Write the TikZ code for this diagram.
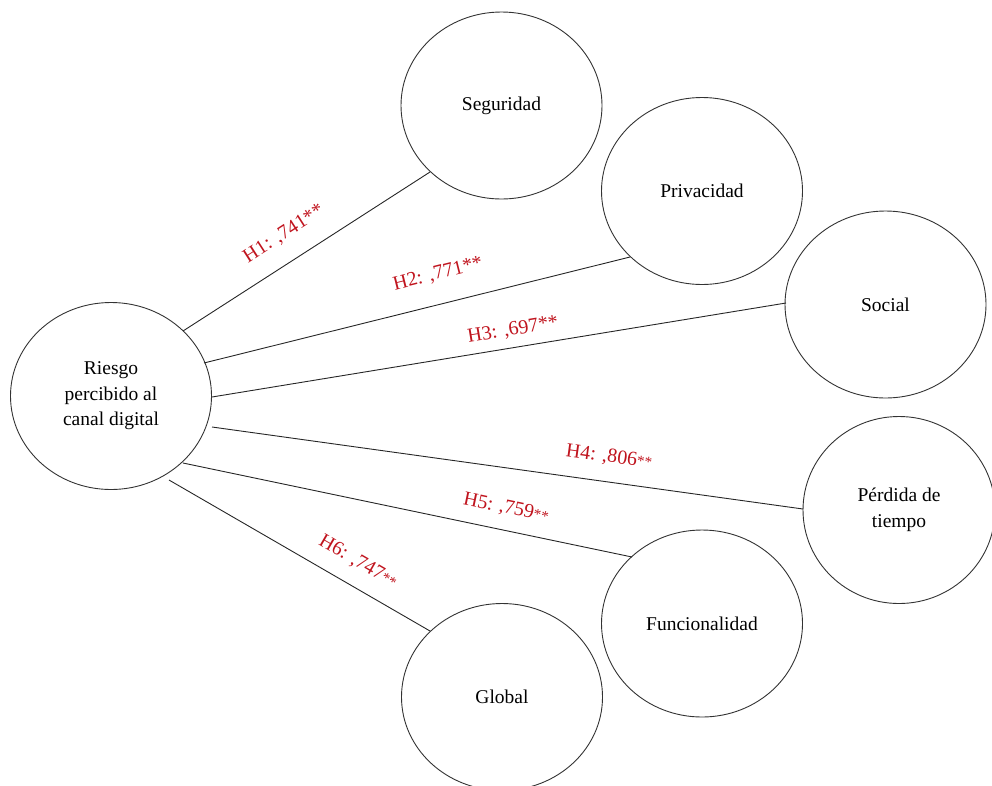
\documentclass[tikz,border=0pt]{standalone}
\usepackage{fontspec}
\setmainfont{Liberation Serif}
\usetikzlibrary{shapes.geometric}
\definecolor{lblred}{RGB}{192,20,30}
\begin{document}
\begin{tikzpicture}[x=1pt,y=-1pt,
  circ/.style={draw=black!80,line width=0.9pt,ellipse,minimum width=201pt,minimum height=187pt,inner sep=0pt,align=center,font=\fontsize{19.5}{25.5}\selectfont},
  conn/.style={draw=black!85,line width=0.9pt},
  lbl/.style={text=lblred,inner sep=0pt,font=\fontsize{20}{24}\selectfont}]
\useasboundingbox (0,0) rectangle (992,785);
\node[circ] (R) at (111,396) {Riesgo\\percibido al\\canal digital};
\node[circ] (S) at (501.5,105.5) {Seguridad};
\node[circ] (P) at (702,191) {Privacidad};
\node[circ] (So) at (885.5,304.5) {Social};
\node[circ,minimum width=192pt] (T) at (899,510) {Pérdida de\\tiempo};
\node[circ] (F) at (702,623.5) {Funcionalidad};
\node[circ] (G) at (502,697) {Global};
\coordinate (r1) at (183,331); \coordinate (e1) at (430,172);
\coordinate (r2) at (204,363); \coordinate (e2) at (630,257);
\coordinate (r3) at (212,397); \coordinate (e3) at (786,303);
\coordinate (r4) at (212,427); \coordinate (e4) at (803,509);
\coordinate (r5) at (183,463); \coordinate (e5) at (632,557);
\coordinate (r6) at (169,480); \coordinate (e6) at (430,631);
\draw[conn] (r1) -- (e1);
\draw[conn] (r2) -- (e2);
\draw[conn] (r3) -- (e3);
\draw[conn] (r4) -- (e4);
\draw[conn] (r5) -- (e5);
\draw[conn] (r6) -- (e6);
\node[lbl,rotate=32.8] (h1) at (284,234) {H1: ,741**};
\node[lbl,rotate=14] (h2) at (438,274) {H2: ,771**};
\node[lbl,rotate=9.3] (h3) at (513,330) {H3: ,697**};
\node[lbl,rotate=-7.9] (h4) at (609,457) {H4: ,806{\fontsize{15}{18}\selectfont**}};
\node[lbl,rotate=-11.8] (h5) at (506,508) {H5: ,759{\fontsize{15}{18}\selectfont**}};
\node[lbl,rotate=-30] (h6) at (358,562) {H6: ,747{\fontsize{15}{18}\selectfont**}};
\end{tikzpicture}
\end{document}
